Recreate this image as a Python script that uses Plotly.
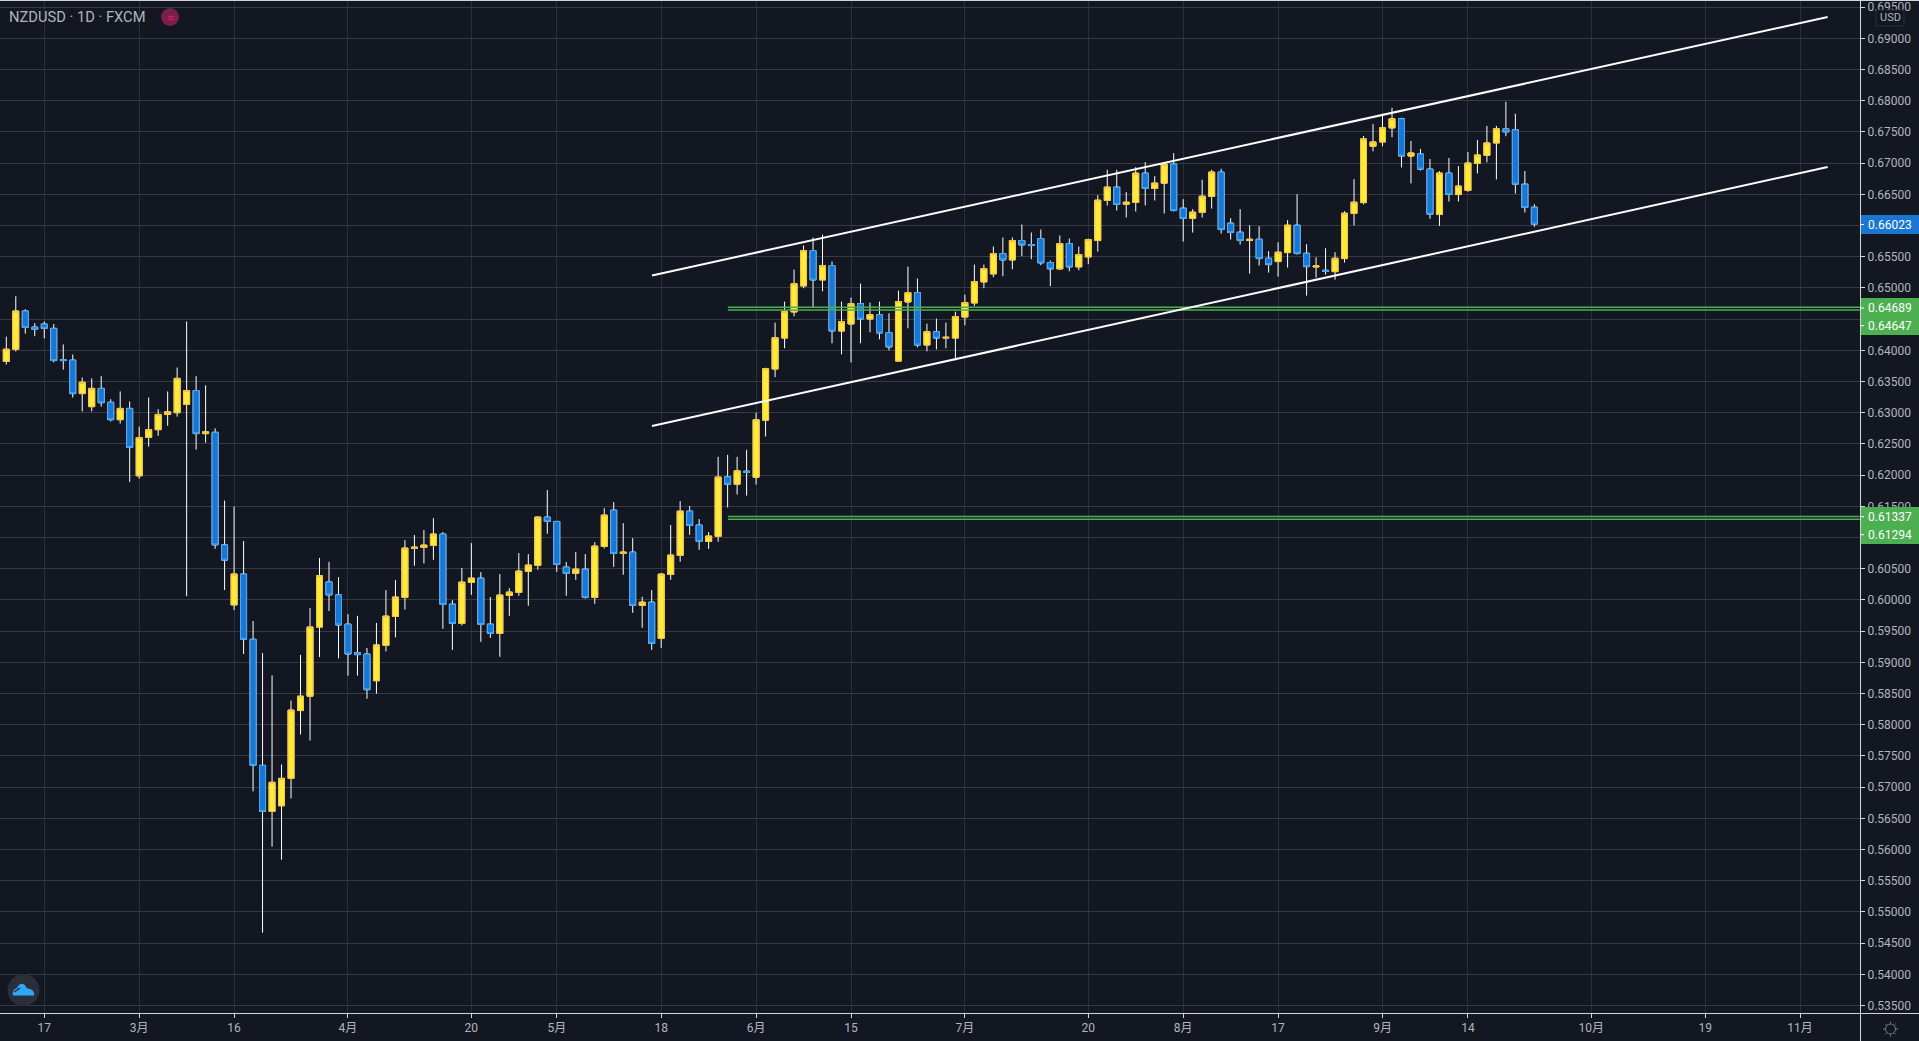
import plotly.graph_objects as go

W, H = 1919, 1041
PLOT_R, PLOT_B = 1860, 1013

opens = [.63822,.64017,.64630,.64372,.64421,.64352,.63850,.63843,.63306,.63097,.63390,.63167,.62888,.63069,.61989,.62603,.62728,.62972,.63000,.63132,
.63355,.62665,.62686,.60882,.59920,.60415,.59369,.57349,.56610,.56701,.57140,.58227,.58457,.59565,.60289,.60080,.59612,.59155,.59133,.58705,
.59270,.59735,.60039,.60825,.60841,.60873,.61055,.59932,.59622,.60280,.60349,.59612,.59462,.60071,.60119,.60456,.60552,.61327,.61258,.60526,
.60424,.60493,.60039,.60857,.61439,.60745,.60766,.59911,.59964,.59382,.60408,.60713,.61423,.61199,.60937,.61017,.61972,.61854,.62063,.61966,
.62881,.63700,.64197,.64615,.65032,.65599,.65128,.65358,.64310,.64422,.64748,.64502,.64572,.64283,.63828,.64775,.64925,.64085,.64299,.64197,
.64197,.64534,.64759,.65096,.65225,.65551,.65449,.65760,.65695,.65792,.65406,.65305,.65711,.65337,.65497,.65759,.66401,.66615,.66342,.66369,
.66839,.66593,.66679,.66984,.66278,.66112,.66208,.66465,.66856,.66037,.65893,.65759,.65780,.65475,.65422,.65566,.66005,.65555,.65336,.65283,
.65261,.65470,.66192,.66367,.67270,.67339,.67565,.67710,.67114,.67146,.66904,.66176,.66840,.66496,.66561,.66996,.67125,.67323,.67549,.67533,
.66663,.66294]
highs = [.64219,.64867,.64658,.64435,.64463,.64421,.64094,.63933,.63564,.63550,.63585,.63216,.63341,.63181,.62777,.63244,.63056,.63341,.63724,.64463,
.63585,.63439,.62749,.61592,.61495,.60944,.59662,.59147,.58791,.57363,.58387,.59119,.59871,.60672,.60610,.60366,.59772,.59745,.59230,.59631,
.60157,.60317,.60958,.61039,.61119,.61311,.61087,.59996,.60510,.60910,.60445,.60045,.60413,.60189,.60750,.60734,.61343,.61760,.61258,.60606,
.60766,.60734,.60926,.61471,.61568,.61231,.60990,.60050,.60157,.60429,.61199,.61584,.61504,.61295,.61087,.62293,.62325,.62293,.62405,.62999,
.63721,.64443,.64781,.65294,.65679,.65808,.65856,.65423,.64781,.64845,.65069,.64764,.64781,.64593,.64957,.65342,.65150,.64427,.64508,.64443,
.64620,.64893,.65374,.65374,.65663,.65808,.65808,.66016,.65888,.65936,.65439,.65840,.65792,.65663,.65790,.66486,.66893,.66893,.66535,.66936,
.67016,.66791,.67000,.67160,.66422,.66262,.66733,.66893,.66909,.66117,.66262,.66005,.65989,.65588,.65732,.66085,.66502,.65700,.65491,.65636,
.65572,.66230,.66743,.67436,.67629,.67791,.67887,.67726,.67356,.67227,.67066,.66872,.67082,.66953,.67178,.67372,.67597,.67597,.67984,.67791,
.66872,.66342]
lows = [.63773,.63982,.64268,.64226,.64191,.63808,.63690,.63244,.63021,.63021,.63097,.62860,.62826,.61892,.61941,.62456,.62630,.62791,.62937,.60059,
.62408,.62519,.60819,.60157,.59836,.59132,.56931,.54666,.56046,.55837,.56819,.57843,.57746,.59084,.59822,.59063,.58786,.58786,.58416,.58497,
.59174,.59398,.59847,.60547,.60584,.60643,.59537,.59200,.59590,.60082,.59328,.59393,.59088,.59745,.60066,.59906,.60483,.61060,.60451,.60066,
.60322,.60018,.59938,.60825,.60531,.60403,.59793,.59553,.59200,.59232,.60322,.60611,.61044,.60803,.60819,.60932,.61482,.61688,.61672,.61849,
.62619,.63571,.64032,.64545,.64995,.64690,.64946,.64112,.63935,.63807,.64112,.64288,.64176,.63999,.63828,.64353,.64048,.63983,.64015,.64032,
.63839,.64401,.64711,.64995,.65171,.65187,.65299,.65508,.65460,.65364,.65027,.65289,.65267,.65283,.65380,.65582,.66321,.66240,.66128,.66224,
.66321,.66401,.66192,.66224,.65743,.65887,.66128,.66272,.65871,.65775,.65695,.65229,.65358,.65245,.65181,.65325,.65534,.64876,.65165,.65213,
.65133,.65406,.66000,.66337,.67189,.67270,.67415,.66931,.66674,.66880,.66107,.65994,.66384,.66384,.66540,.66835,.67012,.66738,.67431,.66512,
.66208,.65978]
closes = [.64017,.64630,.64366,.64338,.64352,.63836,.63836,.63306,.63488,.63390,.63160,.62888,.63069,.62442,.62603,.62728,.62972,.63014,.63550,.63355,
.62665,.62693,.60882,.60638,.60415,.59369,.57349,.56610,.57077,.57140,.58234,.58457,.59565,.60387,.60080,.59599,.59133,.59123,.58561,.59278,
.59740,.60045,.60830,.60846,.60878,.61055,.59927,.59622,.60285,.60349,.59606,.59462,.60077,.60125,.60461,.60558,.61327,.61258,.60568,.60424,
.60493,.60039,.60862,.61359,.60745,.60766,.59911,.59964,.59302,.60413,.60718,.61423,.61194,.60937,.61023,.61968,.61854,.62068,.62047,.62887,
.63705,.64203,.64620,.65069,.65599,.65128,.65358,.64310,.64460,.64748,.64502,.64572,.64278,.64053,.64781,.64925,.64085,.64299,.64197,.64208,
.64540,.64764,.65102,.65310,.65551,.65449,.65760,.65690,.65679,.65401,.65305,.65711,.65337,.65535,.65776,.66406,.66615,.66337,.66374,.66839,
.66593,.66679,.66984,.66240,.66112,.66214,.66470,.66856,.65935,.65887,.65759,.65780,.65470,.65374,.65572,.66005,.65550,.65341,.65352,.65267,
.65475,.66197,.66374,.67388,.67339,.67565,.67710,.67114,.67162,.66904,.66181,.66840,.66496,.66631,.67001,.67130,.67323,.67549,.67501,.66663,
.66288,.66023]

tick_bars = [4, 14, 24, 36, 49, 58, 69, 79, 89, 101, 114, 124, 134, 145, 154, 167, 179, 189]
tick_labels = ["17", "3月", "16", "4月", "20", "5月", "18", "6月", "15", "7月", "20", "8月", "17", "9月", "14", "10月", "19", "11月"]

price_ticks = [.535, .54, .545, .55, .555, .56, .565, .57, .575, .58, .585, .59, .595, .60, .605, .61, .615, .62, .625,
               .63, .635, .64, .645, .65, .655, .66, .665, .67, .675, .68, .685, .69, .695]
# these three sit under the coloured price tags in the reference
price_ticks_hidden = [.61, .645, .66]

channel_x = [68.03, 191.9]
channel_upper = [.65199, .69341]
channel_lower = [.62787, .66937]
green_x = [76.03, 195.3]
green_levels = [.64689, .64647, .61337, .61294]
last_price = .66023
x_range = [-0.664, 195.31]
y_range = [.53380, .69614]

BG = "#131722"
TXT = "#b2b5be"
FONT = "Roboto, 'Noto Sans CJK SC', sans-serif"
AXIS = "#d1d4dc"
GREEN = "#4caf50"
BLUE = "#1976d2"

bars = list(range(len(opens)))
body_hi = [max(o, c) for o, c in zip(opens, closes)]
body_lo = [min(o, c) for o, c in zip(opens, closes)]
price_text = ["" if t in price_ticks_hidden else f"{t:.5f}" for t in price_ticks]

fig = go.Figure()
white = dict(line=dict(color="#ffffff", width=1), fillcolor="#ffffff")
fig.add_trace(go.Candlestick(x=bars, open=opens, high=highs, low=lows, close=closes,
                             increasing=white, decreasing=white, whiskerwidth=0, hoverinfo="skip", showlegend=False))
fig.add_trace(go.Candlestick(x=bars, open=opens, high=body_hi, low=body_lo, close=closes,
                             increasing=dict(line=dict(color="#fbc02d", width=1), fillcolor="#ffeb3b"),
                             decreasing=dict(line=dict(color="#42a5f5", width=1), fillcolor=BLUE),
                             whiskerwidth=0, hoverinfo="skip", showlegend=False))
for level in green_levels:
    fig.add_trace(go.Scatter(x=green_x, y=[level, level], mode="lines", line=dict(color=GREEN, width=1.5),
                             hoverinfo="skip", showlegend=False))
for series in (channel_upper, channel_lower):
    fig.add_trace(go.Scatter(x=channel_x, y=series, mode="lines", line=dict(color="#ffffff", width=2),
                             hoverinfo="skip", showlegend=False))


def px(x):
    return x / W


def py(y):
    return 1 - y / H


def rect(x0, y0, x1, y1, fill, line=None, width=0):
    return dict(type="rect", xref="paper", yref="paper", x0=px(x0), x1=px(x1), y0=py(y0), y1=py(y1),
                fillcolor=fill, line=dict(color=line or fill, width=width), layer="above")


def seg(x0, y0, x1, y1, color, width=1):
    return dict(type="line", xref="paper", yref="paper", x0=px(x0), x1=px(x1), y0=py(y0), y1=py(y1),
                line=dict(color=color, width=width), layer="above")


def circle(cx, cy, r, fill, line=None, width=0):
    return dict(type="circle", xref="paper", yref="paper", x0=px(cx - r), x1=px(cx + r), y0=py(cy + r), y1=py(cy - r),
                fillcolor=fill, line=dict(color=line or fill, width=width), layer="above")


def path(points, fill, line=None, width=0):
    d = ""
    for cmd, *xy in points:
        d += cmd
        d += " ".join(f"{px(xy[i]):.5f},{py(xy[i + 1]):.5f}" for i in range(0, len(xy), 2)) + " "
    return dict(type="path", xref="paper", yref="paper", path=d.strip(), fillcolor=fill,
                line=dict(color=line or fill, width=width), layer="above")


def label(x, y, text, color=TXT, size=12, xanchor="center"):
    return dict(xref="paper", yref="paper", x=px(x), y=py(y), text=text, showarrow=False, xanchor=xanchor,
                yanchor="middle", font=dict(color=color, size=size, family=FONT), borderpad=0)


shapes = [
    rect(1860, 298, 1919, 335, GREEN),
    rect(1860, 507, 1919, 544, GREEN),
    rect(1860, 215, 1919, 234, BLUE),
    seg(0, 0.5, W, 0.5, AXIS),
    seg(PLOT_R + .5, 0, PLOT_R + .5, H, AXIS),
    seg(0, PLOT_B + .5, W, PLOT_B + .5, AXIS),
    rect(1876, 10, 1904, 26, BG, "#2a2e39", 1),
    circle(170, 17, 9, "#7b1f4b"),
    circle(23.5, 990, 16, "#2a2e39"),
    path([("M", 13, 995.5), ("C", 12, 991, 14, 989, 17, 988), ("C", 19, 982.5, 24, 982.5, 26, 987),
          ("C", 27, 988.5, 28, 988.5, 30, 989), ("C", 33, 990, 35, 993, 34, 995.5), ("Z",)], "#2ea6ff"),
    path([("M", 14, 992), ("L", 20, 988, 26, 993, 29, 991, 34, 995)], "rgba(0,0,0,0)", "#2a2e39", 1.5),
]
for y in (308, 325.7, 516.7, 534.7, 224.5):
    shapes.append(seg(PLOT_R, y, PLOT_R + 4, y, "#ffffff"))

# settings gear
gx, gy = 1890.5, 1029
shapes.append(circle(gx, gy, 5, "rgba(0,0,0,0)", "#787b86", 1))
for dx, dy in ((0, -1), (0, 1), (-1, 0), (1, 0), (.7, .7), (-.7, .7), (.7, -.7), (-.7, -.7)):
    shapes.append(seg(gx + dx * 5.5, gy + dy * 5.5, gx + dx * 7.5, gy + dy * 7.5, "#787b86"))

annotations = [
    label(8, 17, "NZDUSD · 1D · FXCM", size=14.7, xanchor="left"),
    label(170, 17, "≈", color="#e91e63", size=13),
    label(1890, 18, "USD", size=11),
    label(1890, 224.5, f"{last_price:.5f}", "#ffffff"),
    label(1890, 307.7, f"{green_levels[0]:.5f}", "#ffffff"),
    label(1890, 325.7, f"{green_levels[1]:.5f}", "#ffffff"),
    label(1890, 516.7, f"{green_levels[2]:.5f}", "#ffffff"),
    label(1890, 534.7, f"{green_levels[3]:.5f}", "#ffffff"),
]

fig.update_layout(
    width=W, height=H, margin=dict(l=0, r=0, t=0, b=0), paper_bgcolor=BG, plot_bgcolor=BG,
    boxgap=0.37, boxgroupgap=0, boxmode="overlay", hovermode=False, showlegend=False,
    font=dict(family=FONT, color=TXT, size=12),
    shapes=shapes, annotations=annotations,
    xaxis=dict(domain=[0, PLOT_R / W], range=x_range, rangeslider=dict(visible=False),
               tickmode="array", tickvals=tick_bars, ticktext=tick_labels,
               ticks="outside", ticklen=4, tickcolor=AXIS, tickfont=dict(size=12, color=TXT, family=FONT),
               showgrid=True, gridcolor="#2a2e39", gridwidth=1, zeroline=False, showline=False, fixedrange=True),
    yaxis=dict(domain=[1 - PLOT_B / H, 1], range=y_range, side="right", tickmode="array",
               tickvals=price_ticks, ticktext=price_text,
               ticks="outside", ticklen=4, tickcolor=AXIS, tickfont=dict(size=12, color=TXT, family=FONT),
               showgrid=True, gridcolor="#363a45", gridwidth=1, zeroline=False, showline=False, fixedrange=True),
)

fig.write_html("out.html", config={"displayModeBar": False},
               post_script="document.body.style.margin='0';document.body.style.overflow='hidden';")
